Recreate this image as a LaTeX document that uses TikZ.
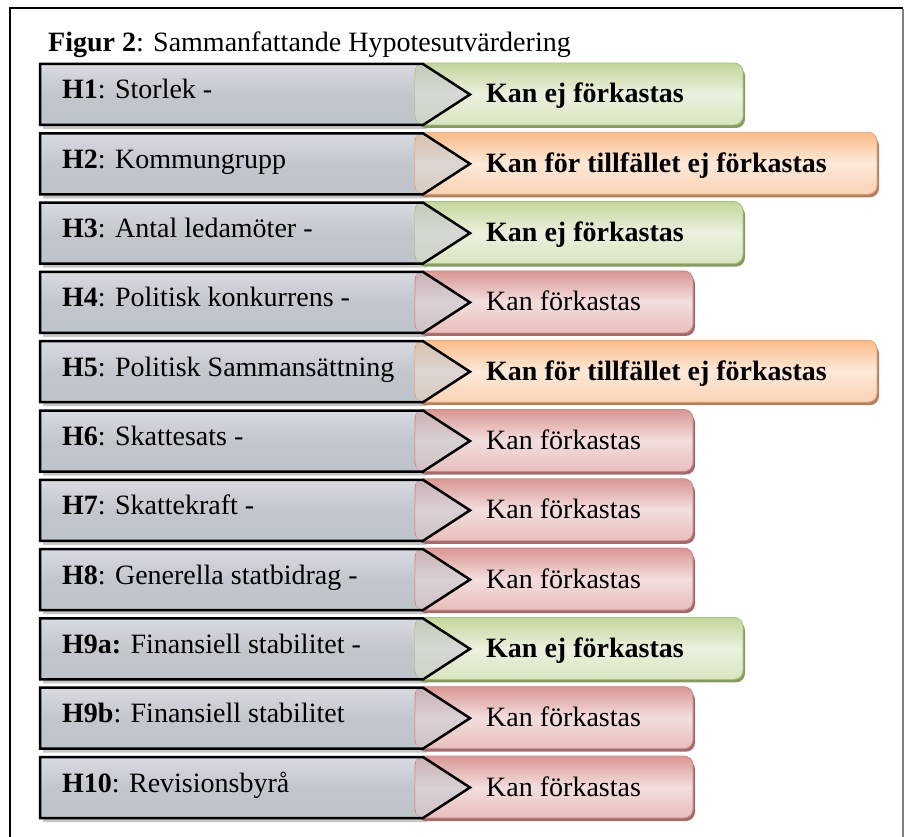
\documentclass[tikz,border=0pt]{standalone}
\usepackage{fontspec}
\setmainfont{Liberation Serif}
\usepackage{tikz}

% colours of the arrows and result boxes
\definecolor{arrowtop}{HTML}{D8DBE1}
\definecolor{arrowmid}{HTML}{C2C6CD}
\definecolor{arrowbot}{HTML}{BEC2C9}
\definecolor{topgreen}{HTML}{C3D69B}
\definecolor{midgreen}{HTML}{EBF1DF}
\definecolor{botgreen}{HTML}{D8E5BF}
\definecolor{edgegreen}{HTML}{A9C07C}
\definecolor{topred}{HTML}{D99694}
\definecolor{midred}{HTML}{F3DEDD}
\definecolor{botred}{HTML}{E8BEBD}
\definecolor{edgered}{HTML}{C98886}
\definecolor{toporange}{HTML}{F9BB88}
\definecolor{midorange}{HTML}{FDE9DA}
\definecolor{botorange}{HTML}{FAD2B2}
\definecolor{edgeorange}{HTML}{DDA277}

\tikzset{
  hyparrow/.style={top color=arrowtop, bottom color=arrowbot, middle color=arrowmid},
  resbox/.style={top color=top#1, bottom color=bot#1, middle color=mid#1,
    draw=edge#1, line width=0.8pt, rounded corners=9pt},
  resshadow/.style={fill=edge#1!80!black, rounded corners=9pt},
  rowtext/.style={anchor=base west, inner sep=0pt}
}

\begin{document}
\begin{tikzpicture}[x=1pt, y=-1pt, font=\fontsize{28}{32}\selectfont]
\useasboundingbox (0,0) rectangle (904,837);

% frame
\draw[line width=2.5pt] (10,837) -- (10,8) -- (903,8);
\draw[gray, line width=1.5pt] (903,9) -- (903,837);

% title
\node[rowtext] (title) at (48,52) {\textbf{Figur 2}: Sammanfattande Hypotesutvärdering};

% one row per hypothesis
\foreach \hyp/\res/\kind/\len [count=\i from 0] in {
  {\textbf{H1}: Storlek -}/{\textbf{Kan ej förkastas}}/green/743,
  {\textbf{H2}: Kommungrupp}/{\textbf{Kan för tillfället ej förkastas}}/orange/877,
  {\textbf{H3}: Antal ledamöter -}/{\textbf{Kan ej förkastas}}/green/743,
  {\textbf{H4}: Politisk konkurrens -}/{Kan förkastas}/red/693,
  {\textbf{H5}: Politisk Sammansättning}/{\textbf{Kan för tillfället ej förkastas}}/orange/877,
  {\textbf{H6}: Skattesats -}/{Kan förkastas}/red/693,
  {\textbf{H7}: Skattekraft -}/{Kan förkastas}/red/693,
  {\textbf{H8}: Generella statbidrag -}/{Kan förkastas}/red/693,
  {\textbf{H9a:} Finansiell stabilitet -}/{\textbf{Kan ej förkastas}}/green/743,
  {\textbf{H9b}: Finansiell stabilitet}/{Kan förkastas}/red/693,
  {\textbf{H10}: Revisionsbyrå}/{Kan förkastas}/red/693}
{
  \pgfmathsetmacro\rowtop{64+69.3*\i}
  \pgfmathsetmacro\rowbot{\rowtop+61}
  \pgfmathsetmacro\rowmid{\rowtop+30.5}
  % shadows
  \fill[black!22] (43,\rowtop+4) -- (426,\rowtop+4) -- (473,\rowmid+4) -- (426,\rowbot+4) -- (43,\rowbot+4) -- cycle;
  \fill[resshadow=\kind] (417,\rowtop+3) rectangle (\len+2,\rowbot+3);
  % gray arrow
  \fill[hyparrow] (40,\rowtop) -- (423,\rowtop) -- (470,\rowmid) -- (423,\rowbot) -- (40,\rowbot) -- cycle;
  % result box
  \path[resbox=\kind] (415,\rowtop-1) rectangle (\len,\rowbot);
  \fill[arrowmid, fill opacity=.55] (416,\rowtop) -- (423,\rowtop) -- (470,\rowmid) -- (423,\rowbot) -- (416,\rowbot) -- cycle;
  \draw[line width=2.5pt] (40,\rowtop) -- (423,\rowtop) -- (470,\rowmid) -- (423,\rowbot) -- (40,\rowbot) -- cycle;
  % texts
  \node[rowtext] (hyp\i) at (62,\rowtop+35) {\hyp};
  \node[rowtext] (res\i) at (486,\rowtop+39) {\res};
}
\end{tikzpicture}
\end{document}
